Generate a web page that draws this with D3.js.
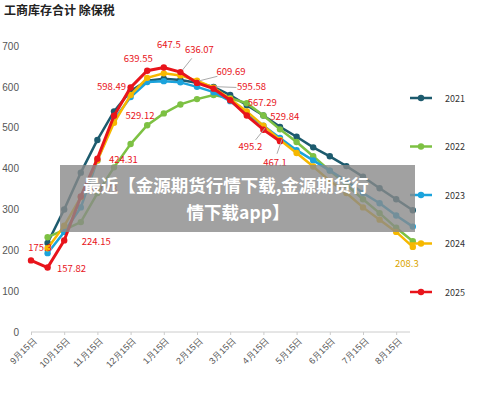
<!DOCTYPE html>
<html><head><meta charset="utf-8">
<script src="https://cdn.jsdelivr.net/npm/d3@7"></script>
<style>body{margin:0;background:#fff}svg{font-family:"Noto Sans CJK SC","Noto Sans",sans-serif}</style>
</head><body><div id="vis"></div>
<script>
const ticks = ["9月15日","10月15日","11月15日","12月15日","1月15日","2月15日","3月15日","4月15日","5月15日","6月15日","7月15日","8月15日"]
const years = ["2021","2022","2023","2024","2025"]
const s2021 = [null,218,300,390,470,540,590,615,620,617,610,600,580,555,530,502,478,452,430,406,380,352,325,298]
const s2022 = [null,232,250,269,340,403,460,506,535,557,570,580,572,560,530,496,465,430,395,360,325,291,255,222]
const s2023 = [null,193,245,305,420,520,575,612,614,611,600,587,565,535,505,475,445,420,395,370,340,315,285,258]
const s2024 = [null,205,260,330,420,512,580,622,633,628,615,598,570,540,505,470,438,405,370,340,305,275,245,208.3]
const s2025 = [175.3,157.82,224.15,331.78,424.31,529.12,598.49,639.55,647.5,636.07,609.69,595.58,567.29,529.84,495.2,467.1]
const series = [s2021,s2022,s2023,s2024,s2025]
const colors = ["#1d5b6e","#7dc143","#1ba3dc","#f6b800","#e8141b"]
// label offsets for 2025 values (px)
const labOff = [[9,-13],[24,1],[32,1],[22,-8],[26,1],[26,0],[-19,-1],[-9,-12],[5,-23],[19,-23],[34,-11],[38,-2],[32,2],[38,1],[-13,17],[-5,21]]

const svg = d3.select('#vis').append('svg').attr('width',500).attr('height',400)
const x = d3.scaleLinear().domain([0,23]).range([31,31+16.6*23])
const y = d3.scaleLinear().domain([0,700]).range([332,46])

svg.append('text').attr('x',4).attr('y',15).attr('font-size',12).attr('font-weight','bold').attr('fill','#222')
  .text('工商库存合计   除保税')

svg.append('g')
  .call(d3.axisLeft(y).tickValues(d3.range(0,701,100)).tickSize(0).tickPadding(0))
  .call(g=>g.select('.domain').remove())
  .call(g=>g.selectAll('text').attr('x',19).attr('font-size',10).attr('fill','#555'))

const xa = svg.append('g').attr('transform','translate(0,332)')
  .call(d3.axisBottom(x).tickValues(d3.range(0,23,2)).tickSize(3).tickFormat((d,i)=>ticks[i]))
xa.select('.domain').attr('d','M31,0H410').attr('stroke','#ccc')
xa.selectAll('line').attr('stroke','#ccc')
xa.selectAll('text').attr('font-size',9).attr('fill','#555').attr('text-anchor','end')
  .attr('transform','rotate(-45)').attr('dx','-0.3em').attr('dy','0.5em')

const line = d3.line().defined(d=>d!=null).x((d,i)=>x(i)).y(d=>y(d))
series.forEach((s,k)=>{
  const g = svg.append('g')
  g.append('path').attr('d',line(s)).attr('fill','none').attr('stroke',colors[k]).attr('stroke-width',k==4?3:2.5)
  g.selectAll('circle').data(s.map((v,i)=>[i,v]).filter(d=>d[1]!=null)).join('circle')
    .attr('cx',d=>x(d[0])).attr('cy',d=>y(d[1])).attr('r',3.2).attr('fill',colors[k])
})

// 2025 data labels
const leaders = [9,10,11,14,15]
s2025.forEach((v,i)=>{
  const px = x(i), py = y(v), o = labOff[i]
  if (leaders.includes(i)) svg.append('line').attr('x1',px+2).attr('y1',py-2)
    .attr('x2',px+o[0]*0.6).attr('y2',py+o[1]*0.6).attr('stroke','#aaa')
  svg.append('text').attr('x',px+o[0]).attr('y',py+o[1]+3.5).attr('text-anchor','middle')
    .attr('font-size',9.5).attr('fill','#e8141b').text(v)
})
svg.append('text').attr('x',x(23)-6).attr('y',y(208.3)+20).attr('text-anchor','middle')
  .attr('font-size',9.5).attr('fill','#d9a400').text(208.3)

// legend
years.forEach((yr,k)=>{
  const ly = 98 + k*48.5
  svg.append('line').attr('x1',410).attr('x2',432).attr('y1',ly).attr('y2',ly).attr('stroke',colors[k]).attr('stroke-width',2.5)
  svg.append('circle').attr('cx',421).attr('cy',ly).attr('r',3.2).attr('fill',colors[k])
  svg.append('text').attr('x',445).attr('y',ly+3.5).attr('font-size',9).attr('fill','#333').text(yr)
})

// overlay banner
svg.append('rect').attr('x',60).attr('y',165).attr('width',355).attr('height',67).attr('fill','#8a8a8a').attr('opacity',0.8)
svg.append('text').attr('x',226).attr('y',192).attr('text-anchor','middle').attr('font-size',17.5).attr('font-weight','bold').attr('fill','#fff').text('最近【金源期货行情下载,金源期货行')
svg.append('text').attr('x',238).attr('y',219).attr('text-anchor','middle').attr('font-size',17.5).attr('font-weight','bold').attr('fill','#fff').text('情下载app】')
</script></body></html>
